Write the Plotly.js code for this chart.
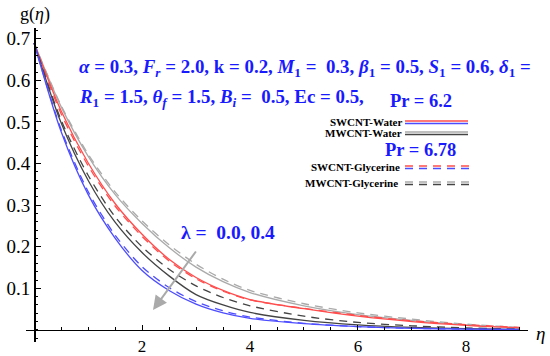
<!DOCTYPE html>
<html>
<head>
<meta charset="utf-8">
<script src="https://cdn.plot.ly/plotly-3.0.1.min.js"></script>
<style>html,body{margin:0;padding:0;background:#fff;}#chart{width:550px;height:356px;}</style>
</head>
<body>
<div id="chart"></div>
<script>
// eta grid
var eta = [0, 0.5, 1, 1.5, 2, 2.5, 3, 3.5, 4, 5, 6, 7, 8, 9];
// lambda = 0.0
var swWater0  = [0.690, 0.527, 0.402, 0.304, 0.230, 0.170, 0.126, 0.095, 0.073, 0.051, 0.033, 0.020, 0.011, 0.005];
var swGly0    = [0.690, 0.520, 0.395, 0.298, 0.225, 0.166, 0.123, 0.093, 0.072, 0.052, 0.035, 0.022, 0.013, 0.006];
var mwWater0  = [0.690, 0.537, 0.418, 0.326, 0.256, 0.198, 0.151, 0.116, 0.090, 0.058, 0.037, 0.023, 0.012, 0.005];
var mwGly0    = [0.690, 0.540, 0.423, 0.332, 0.262, 0.205, 0.158, 0.122, 0.095, 0.063, 0.041, 0.026, 0.014, 0.006];
// lambda = 0.4
var swWater4  = [0.690, 0.477, 0.326, 0.221, 0.143, 0.095, 0.062, 0.041, 0.028, 0.015, 0.008, 0.004, 0.002, 0.001];
var swGly4    = [0.690, 0.482, 0.333, 0.228, 0.152, 0.102, 0.068, 0.046, 0.031, 0.016, 0.008, 0.004, 0.002, 0.001];
var mwWater4  = [0.690, 0.498, 0.360, 0.259, 0.186, 0.130, 0.085, 0.060, 0.042, 0.023, 0.012, 0.006, 0.003, 0.001];
var mwGly4    = [0.690, 0.505, 0.372, 0.272, 0.200, 0.146, 0.106, 0.078, 0.058, 0.033, 0.018, 0.010, 0.005, 0.002];

var yTicks = [0.1, 0.2, 0.3, 0.4, 0.5, 0.6, 0.7];
var xTicks = [2, 4, 6, 8];

var RED = '#ff4d4d', BLUE = '#4d4dff', GRAY = '#aaaaaa', DARK = '#444444';
var DASH = '8px,6px';

function tr(y, color, dash) {
  return {x: eta, y: y, mode: 'lines', line: {color: color, width: 1.3, dash: dash, shape: 'spline', smoothing: 0.8}, hoverinfo: 'skip', showlegend: false};
}
var data = [
  tr(mwGly0, GRAY, DASH), tr(mwWater0, GRAY, 'solid'),
  tr(swGly0, RED, DASH), tr(swWater0, RED, 'solid'),
  tr(mwGly4, DARK, DASH), tr(mwWater4, DARK, 'solid'),
  tr(swGly4, BLUE, DASH), tr(swWater4, BLUE, 'solid')
];

// pixel -> paper helpers (plot area: x 26..528, y 28..342)
var L = 26, R = 22, T = 28, B = 14, W = 550, H = 356;
function PX(p) { return (p - L) / (W - L - R); }
function PY(p) { return (H - B - p) / (H - T - B); }

var SERIF = 'Liberation Serif, Times New Roman, serif';
var blueFont = {family: SERIF, size: 18.9, color: '#1a1aff'};
var legFont = {family: SERIF, size: 11, color: '#000'};

function ann(text, px, py, font, xanchor) {
  return {text: text, x: PX(px), y: PY(py), xref: 'paper', yref: 'paper', showarrow: false, xanchor: xanchor || 'left', yanchor: 'middle', font: font};
}

var annotations = [
  ann('g(<i>η</i>)', 18, 14, {family: SERIF, size: 18, color: '#000'}),
  ann('<i>η</i>', 534, 333, {family: SERIF, size: 19, color: '#000'}),
  ann('<b><i>α</i> = 0.3, <i>F</i><sub><i>r</i></sub> = 2.0, k = 0.2, <i>M</i><sub>1</sub> =  0.3, <i>β</i><sub>1</sub> = 0.5, <i>S</i><sub>1</sub> = 0.6, <i>δ</i><sub>1</sub> =</b>', 77, 68, blueFont),
  ann('<b><i>R</i><sub>1</sub> = 1.5, <i>θ</i><sub><i>f</i></sub> = 1.5, <i>B</i><sub><i>i</i></sub> =  0.5, Ec = 0.5,</b>', 77, 98, blueFont),
  ann('<b>Pr = 6.2</b>', 388, 101, {family: SERIF, size: 18.5, color: '#1a1aff'}),
  ann('<b>Pr = 6.78</b>', 383, 150, {family: SERIF, size: 18.5, color: '#1a1aff'}),
  ann('<b>SWCNT-Water</b>', 404, 122, legFont, 'right'),
  ann('<b>MWCNT-Water</b>', 404, 133, legFont, 'right'),
  ann('<b>SWCNT-Glycerine</b>', 402, 167, legFont, 'right'),
  ann('<b>MWCNT-Glycerine</b>', 400, 183, legFont, 'right'),
  ann('<b>λ =  0.0, 0.4</b>', 179, 232, {family: SERIF, size: 19.5, color: '#1a1aff'}),
  {x: PX(153), y: PY(310), xref: 'paper', yref: 'paper', ax: 44, ay: -60, showarrow: true,
   arrowhead: 2, arrowsize: 1.4, arrowwidth: 2, arrowcolor: '#aaaaaa', text: ''}
];

function seg(x0, x1, py, color, dash) {
  return {type: 'line', xref: 'paper', yref: 'paper', x0: PX(x0), x1: PX(x1), y0: PY(py), y1: PY(py), line: {color: color, width: 1.5, dash: dash}};
}
var shapes = [
  seg(405, 468, 121, RED, 'solid'), seg(405, 468, 123.5, BLUE, 'solid'),
  seg(405, 468, 132, GRAY, 'solid'), seg(405, 468, 134.5, DARK, 'solid'),
  seg(405, 472, 166, RED, DASH), seg(405, 472, 168.5, BLUE, DASH),
  seg(405, 472, 182, GRAY, DASH), seg(405, 472, 184.5, DARK, DASH)
];

var xr = [-0.15, 9.15], yr = [-0.029, 0.726];
var layout = {
  width: W, height: H,
  margin: {l: L, r: R, t: T, b: B},
  paper_bgcolor: '#fff', plot_bgcolor: '#fff',
  xaxis: {range: xr, anchor: 'free', position: (0 - yr[0]) / (yr[1] - yr[0]),
    showline: true, linecolor: '#000', linewidth: 1.5, zeroline: false, showgrid: false,
    tickvals: xTicks, ticks: 'inside', ticklen: 5, tickcolor: '#000', tickwidth: 1,
    minor: {dtick: 0.5, tick0: 0, ticks: 'inside', ticklen: 2.5, tickcolor: '#000', showgrid: false},
    tickfont: {family: SERIF, size: 17, color: '#000'}},
  yaxis: {range: yr, anchor: 'free', position: (0 - xr[0]) / (xr[1] - xr[0]),
    showline: true, linecolor: '#000', linewidth: 1.5, zeroline: false, showgrid: false,
    tickvals: yTicks, tickformat: '.1f', ticks: 'inside', ticklen: 5, tickcolor: '#000', tickwidth: 1,
    minor: {dtick: 0.02, tick0: 0, ticks: 'inside', ticklen: 2.5, tickcolor: '#000', showgrid: false},
    tickfont: {family: SERIF, size: 19, color: '#000'}},
  annotations: annotations,
  shapes: shapes,
  showlegend: false
};
Plotly.newPlot('chart', data, layout, {staticPlot: true});
</script>
</body>
</html>
